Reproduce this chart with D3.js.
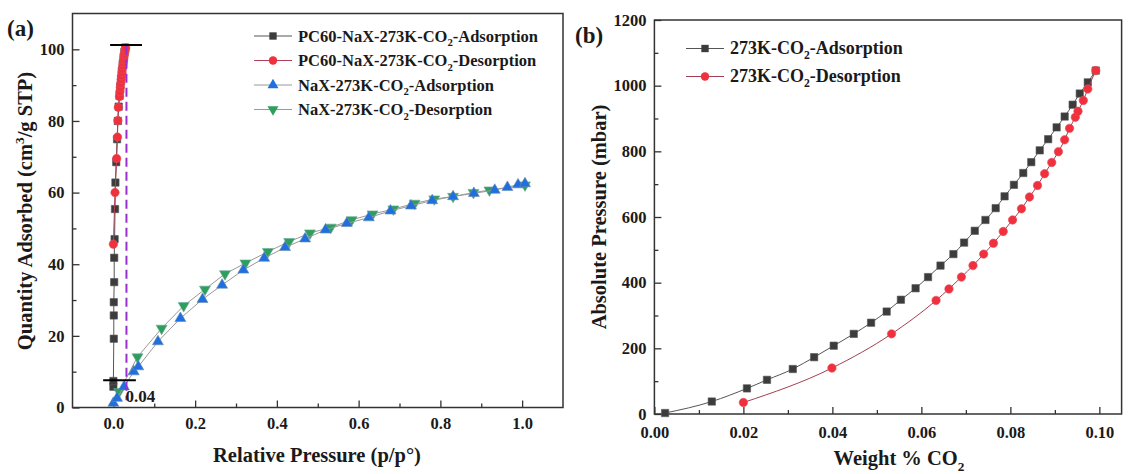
<!DOCTYPE html>
<html>
<head>
<meta charset="utf-8">
<script src="https://cdn.jsdelivr.net/npm/d3@7"></script>
<style>
  body{margin:0;background:#fff;}
  svg text{font-family:"Liberation Serif","Times New Roman",serif;font-weight:bold;fill:#1a1a1a;}
</style>
</head>
<body>
<div id="chart"></div>
<script>
// ---- panel (a) data ----
const pcAdsX=[0.000,0.000,0.001,0.001,0.001,0.002,0.002,0.003,0.004,0.005,0.007,0.009,0.011,0.013,0.015,0.017,0.019,0.021,0.023,0.025,0.027,0.029];
const pcAdsY=[5.8,7.4,19.2,25.7,29.4,35.0,41.8,47.0,55.4,62.8,68.5,74.9,80.0,84.0,87.0,89.5,91.8,94.0,96.0,97.8,99.3,100.5];
const pcDesX=[0.000,0.004,0.008,0.010,0.011,0.012,0.015,0.016,0.017,0.018,0.019,0.020,0.021,0.022,0.023,0.024,0.025,0.026,0.027,0.028,0.029,0.030];
const pcDesY=[45.6,60.0,69.5,75.5,80.1,83.8,86.8,88.2,89.4,90.5,91.6,92.6,93.6,94.5,95.4,96.3,97.1,97.9,98.6,99.3,99.9,100.4];
const naxAdsX=[0.000,0.009,0.026,0.050,0.061,0.109,0.164,0.218,0.266,0.318,0.369,0.420,0.469,0.519,0.571,0.625,0.678,0.728,0.780,0.831,0.882,0.933,0.964,0.990,1.007];
const naxAdsY=[1.2,2.6,5.8,10.0,11.4,18.4,24.9,30.2,34.2,38.4,41.7,44.7,47.1,49.6,51.4,53.0,54.9,56.3,57.8,58.9,59.8,60.7,61.5,62.2,62.5];
const naxDesX=[0.014,0.059,0.118,0.172,0.224,0.273,0.323,0.378,0.430,0.481,0.532,0.583,0.634,0.685,0.737,0.785,0.831,0.881,0.920,1.007];
const naxDesY=[4.4,14.1,22.1,28.4,33.0,37.3,40.3,43.5,46.3,48.7,50.3,52.4,54.0,55.4,57.0,58.2,58.9,60.0,60.7,62.1];
const seriesA=["PC60-NaX-273K-CO|2|-Adsorption","PC60-NaX-273K-CO|2|-Desorption","NaX-273K-CO|2|-Adsorption","NaX-273K-CO|2|-Desorption"];
const aXTicks=[0,0.2,0.4,0.6,0.8,1.0];
const aYTicks=[0,20,40,60,80,100];
const markX=0.032;          // dashed marker line
const markLabel="0.04";
const capTop=[-0.008,0.07,101.2];   // x0,x1,y
const capBottom=[-0.025,0.055,7.6];

// ---- panel (b) data ----
const bAdsX=[0.0024,0.0129,0.0208,0.0253,0.0311,0.0359,0.0403,0.0448,0.0487,0.0522,0.0554,0.0587,0.0615,0.0643,0.0672,0.0696,0.0720,0.0744,0.0767,0.0787,0.0808,0.0829,0.0847,0.0866,0.0885,0.0904,0.0922,0.0940,0.0956,0.0974,0.0992];
const bAdsY=[3,38,78,104,137,173,208,244,278,312,348,383,417,452,487,522,558,591,627,663,698,734,767,803,837,873,906,942,976,1010,1046];
const bDesX=[0.0200,0.0399,0.0533,0.0633,0.0662,0.0690,0.0716,0.0740,0.0762,0.0784,0.0805,0.0825,0.0843,0.0861,0.0877,0.0893,0.0908,0.0922,0.0933,0.0946,0.0952,0.0964,0.0974,0.0992];
const bDesY=[35,140,244,346,381,417,452,487,520,556,591,625,661,696,732,766,799,835,870,904,922,955,990,1046];
const seriesB=["273K-CO|2|-Adsorption","273K-CO|2|-Desorption"];
const bXTicks=[0,0.02,0.04,0.06,0.08,0.10];
const bYTicks=[0,200,400,600,800,1000,1200];

const zip=(xs,ys)=>xs.map((x,i)=>[x,ys[i]]);

const svg=d3.select("#chart").append("svg").attr("width",1133).attr("height",474);
svg.append("rect").attr("width",1133).attr("height",474).attr("fill","#fff");

// text with subscripts / superscripts written as a|b|c (b = sub) or a^b^c (b = sup)
function richText(sel,str,size){
  const parts=str.split(/([|^])/);
  let mode=null, shift=0;
  parts.forEach(p=>{
    if(p==="|"){mode=mode==="sub"?null:"sub";return;}
    if(p==="^"){mode=mode==="sup"?null:"sup";return;}
    if(!p) return;
    const t=sel.append("tspan").text(p);
    let target=0;
    if(mode==="sub"){t.attr("font-size",size*0.65);target=size*0.28;}
    else if(mode==="sup"){t.attr("font-size",size*0.65);target=-size*0.4;}
    t.attr("dy",target-shift);
    shift=target;
  });
}

function axes(g,x,y,xt,yt,xfmt,yfmt,xpad){
  const [x0,x1]=x.range(), [y0,y1]=y.range();
  const xs=xt[1]-xt[0], ys=yt[1]-yt[0];
  const xMinor=d3.range(x.domain()[0],x.domain()[1]+1e-9,xs/2).filter(v=>!xt.some(t=>Math.abs(t-v)<1e-9));
  const yMinor=d3.range(y.domain()[0],y.domain()[1]+1e-9,ys/2).filter(v=>!yt.some(t=>Math.abs(t-v)<1e-9));
  g.append("g").attr("transform",`translate(0,${y0})`)
    .call(d3.axisBottom(x).tickValues(xt).tickFormat(xfmt).tickSizeInner(-7).tickSizeOuter(0).tickPadding(xpad));
  g.append("g").attr("transform",`translate(0,${y0})`)
    .call(d3.axisBottom(x).tickValues(xMinor.filter(v=>x(v)>x0+1&&x(v)<x1-1)).tickFormat("").tickSizeInner(-4).tickSizeOuter(0));
  g.append("g").attr("transform",`translate(${x0},0)`)
    .call(d3.axisLeft(y).tickValues(yt).tickFormat(yfmt).tickSizeInner(-7).tickSizeOuter(0).tickPadding(8));
  g.append("g").attr("transform",`translate(${x0},0)`)
    .call(d3.axisLeft(y).tickValues(yMinor.filter(v=>y(v)<y0-1&&y(v)>y1+1)).tickFormat("").tickSizeInner(-4).tickSizeOuter(0));
  g.selectAll(".domain").remove();
  g.selectAll(".tick line").attr("stroke","#333").attr("stroke-width",1.3);
  g.selectAll(".tick text").attr("font-size",16.5).attr("fill","#1a1a1a")
    .style("font-family",'"Liberation Serif",serif').style("font-weight","bold");
  g.append("rect").attr("x",x0).attr("y",y1).attr("width",x1-x0).attr("height",y0-y1)
    .attr("fill","none").attr("stroke","#333").attr("stroke-width",1.5);
}

const sym={
  square:d3.symbol().type(d3.symbolSquare).size(54),
  circle:d3.symbol().type(d3.symbolCircle).size(56),
  up:d3.symbol().type(d3.symbolTriangle).size(52)
};
function marks(g,data,x,y,shape,fill,stroke,lineColor,curve){
  g.append("path").datum(data).attr("fill","none").attr("stroke",lineColor).attr("stroke-width",1)
    .attr("d",d3.line().x(d=>x(d[0])).y(d=>y(d[1])).curve(curve||d3.curveLinear));
  g.selectAll(null).data(data).enter().append("path")
    .attr("d",shape==="down"?sym.up():sym[shape]())
    .attr("transform",d=>`translate(${x(d[0])},${y(d[1])})`+(shape==="down"?" rotate(180)":""))
    .attr("fill",fill).attr("stroke",stroke).attr("stroke-width",0.6);
}
function legendRow(g,lx,ly,shape,fill,lineColor,label,size){
  g.append("line").attr("x1",lx).attr("x2",lx+38).attr("y1",ly).attr("y2",ly).attr("stroke",lineColor).attr("stroke-width",1);
  g.append("path").attr("d",shape==="down"?sym.up():sym[shape]())
    .attr("transform",`translate(${lx+19},${ly})`+(shape==="down"?" rotate(180)":""))
    .attr("fill",fill);
  const t=g.append("text").attr("x",lx+44).attr("y",ly+5.5).attr("font-size",size);
  richText(t,label,size);
}

// ================= panel (a) =================
const xa=d3.scaleLinear().domain([-0.1,1.1]).range([72.5,563]);
const ya=d3.scaleLinear().domain([0,110]).range([407.5,13.5]);
const ga=svg.append("g");
axes(ga,xa,ya,aXTicks,aYTicks,d3.format(".1f"),d3.format("d"),10);

const colA={sq:"#3c3c3c",ci:"#f0303c",up:"#1f6fe0",dn:"#2e9e5c"};
marks(ga,zip(pcAdsX,pcAdsY),xa,ya,"square",colA.sq,"#555","#555");
marks(ga,zip(pcDesX,pcDesY),xa,ya,"circle",colA.ci,"#e05060","#b04055");
marks(ga,zip(naxDesX,naxDesY),xa,ya,"down",colA.dn,"#6a9","#999");
marks(ga,zip(naxAdsX,naxAdsY),xa,ya,"up",colA.up,"#68a","#999");

ga.append("line").attr("x1",xa(markX)).attr("x2",xa(markX)).attr("y1",ya(101)).attr("y2",ya(2))
  .attr("stroke","#9a2fd0").attr("stroke-width",2).attr("stroke-dasharray","9,5");
[capTop,capBottom].forEach(c=>ga.append("line").attr("x1",xa(c[0])).attr("x2",xa(c[1]))
  .attr("y1",ya(c[2])).attr("y2",ya(c[2])).attr("stroke","#000").attr("stroke-width",2));
ga.append("text").attr("x",xa(markX)-1).attr("y",ya(1.6)).attr("font-size",17).text(markLabel);

const legA=[["square",colA.sq,"#555"],["circle",colA.ci,"#b04055"],["up",colA.up,"#999"],["down",colA.dn,"#999"]];
legA.forEach((l,i)=>legendRow(ga,254,36+i*24.5,l[0],l[1],l[2],seriesA[i],16.5));

ga.append("text").attr("x",7).attr("y",36).attr("font-size",23).text("(a)");
ga.append("text").attr("x",317).attr("y",462).attr("text-anchor","middle").attr("font-size",20.5).text("Relative Pressure (p/p°)");
const yta=ga.append("text").attr("transform","translate(32,211) rotate(-90)").attr("text-anchor","middle").attr("font-size",20.5);
richText(yta,"Quantity Adsorbed (cm^3^/g STP)",20.5);

// ================= panel (b) =================
const xb=d3.scaleLinear().domain([0,0.105]).range([654.4,1121.6]);
const yb=d3.scaleLinear().domain([0,1200]).range([414,20]);
const gb=svg.append("g");
axes(gb,xb,yb,bXTicks,bYTicks,d3.format(".2f"),d3.format("d"),12);

marks(gb,zip(bAdsX,bAdsY),xb,yb,"square","#3c3c3c","#555","#555",d3.curveMonotoneX);
marks(gb,zip(bDesX,bDesY),xb,yb,"circle","#f0303c","#e05060","#a04050",d3.curveMonotoneX);

legendRow(gb,686,48.5,"square","#3c3c3c","#555",seriesB[0],18);
legendRow(gb,686,76.5,"circle","#f0303c","#a04050",seriesB[1],18);

gb.append("text").attr("x",575).attr("y",43).attr("font-size",23).text("(b)");
const xtb=gb.append("text").attr("x",899).attr("y",465).attr("text-anchor","middle").attr("font-size",20.5);
richText(xtb,"Weight % CO|2|",20.5);
gb.append("text").attr("transform","translate(606,217) rotate(-90)").attr("text-anchor","middle").attr("font-size",20.5).text("Absolute Pressure (mbar)");
</script>
</body>
</html>
